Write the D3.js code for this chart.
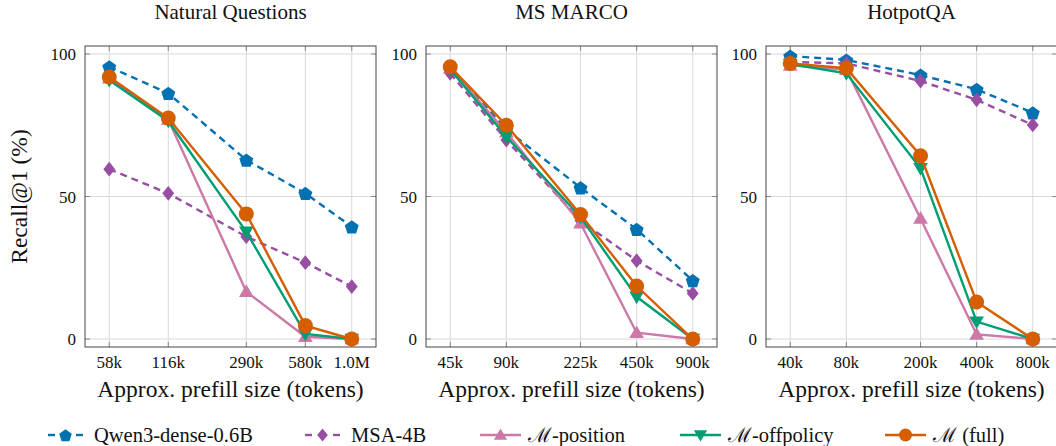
<!DOCTYPE html>
<html>
<head>
<meta charset="utf-8">
<script src="https://cdn.jsdelivr.net/npm/d3@7"></script>
<style>
  body { margin: 0; background: #fff; }
  svg text { font-family: "Liberation Serif", "Times New Roman", serif; fill: #111; }
</style>
</head>
<body>
<div id="chart"></div>
<script>
/* ---------- data ---------- */

const panelTitles = ['Natural Questions', 'MS MARCO', 'HotpotQA'];

// prefill sizes (tokens) and their tick labels
const nqSizes = [58e3, 116e3, 290e3, 580e3, 1e6];
const nqLabels = ['58k', '116k', '290k', '580k', '1.0M'];
const msSizes = [45e3, 90e3, 225e3, 450e3, 900e3];
const msLabels = ['45k', '90k', '225k', '450k', '900k'];
const hpSizes = [40e3, 80e3, 200e3, 400e3, 800e3];
const hpLabels = ['40k', '80k', '200k', '400k', '800k'];

// Recall@1 (%)
const nqQwen      = [95.5, 86.2, 62.8, 51.1, 39.4];
const nqMsa       = [59.6, 51.1, 35.9, 26.8, 18.4];
const nqPosition  = [91.5, 77.0, 16.6, 0.8, 0.0];
const nqOffpolicy = [90.8, 76.5, 37.6, 1.8, 0.0];
const nqFull      = [91.9, 77.5, 43.9, 4.7, 0.0];

const msQwen      = [95.3, 73.5, 53.1, 38.5, 20.5];
const msMsa       = [93.2, 69.8, 41.5, 27.5, 16.0];
const msPosition  = [95.0, 72.5, 40.6, 2.2, 0.0];
const msOffpolicy = [94.6, 71.0, 42.8, 14.8, 0.0];
const msFull      = [95.5, 75.0, 43.7, 18.6, 0.0];

const hpQwen      = [99.3, 97.9, 92.6, 87.6, 79.4];
const hpMsa       = [97.2, 96.7, 90.5, 83.9, 75.1];
const hpPosition  = [96.0, 94.5, 42.3, 1.6, 0.0];
const hpOffpolicy = [96.5, 93.2, 59.9, 6.1, 0.0];
const hpFull      = [96.7, 95.0, 64.3, 13.0, 0.0];

const seriesNames = ['Qwen3-dense-0.6B', 'MSA-4B', 'ℳ-position', 'ℳ-offpolicy', 'ℳ (full)'];
const yTicks = [0, 50, 100];

/* ---------- styles ---------- */

const seriesStyle = [
    {color: '#0072b2', dash: '7,5', marker: 'pentagon'},
    {color: '#984ea3', dash: '7,5', marker: 'diamond'},
    {color: '#cc79a7', dash: null,  marker: 'triangle'},
    {color: '#009e73', dash: null,  marker: 'triangleDown'},
    {color: '#d55e00', dash: null,  marker: 'circle'}
];

const panels = [
    {title: panelTitles[0], sizes: nqSizes, labels: nqLabels, series: [nqQwen, nqMsa, nqPosition, nqOffpolicy, nqFull]},
    {title: panelTitles[1], sizes: msSizes, labels: msLabels, series: [msQwen, msMsa, msPosition, msOffpolicy, msFull]},
    {title: panelTitles[2], sizes: hpSizes, labels: hpLabels, series: [hpQwen, hpMsa, hpPosition, hpOffpolicy, hpFull]}
];

const width = 1056, height = 446;
const panelLeft = [85, 426, 766];
const panelW = 291;
const plotTop = 46, plotBottom = 347;

const svg = d3.select('#chart').append('svg')
    .attr('width', width)
    .attr('height', height);

// marker path centred at 0,0
function markerPath(type, s) {
    if (type === 'circle') {
        const c = d3.path();
        c.arc(0, 0, s, 0, 2 * Math.PI);
        c.closePath();
        return c.toString();
    }
    let pts = [];
    if (type === 'pentagon') {
        for (let i = 0; i < 5; i++) {
            const a = -Math.PI / 2 + i * 2 * Math.PI / 5;
            pts.push([s * 1.05 * Math.cos(a), s * 1.05 * Math.sin(a) + 0.8]);
        }
    } else if (type === 'diamond') {
        pts = [[0, -s * 1.05], [s * 0.85, 0], [0, s * 1.05], [-s * 0.85, 0]];
    } else if (type === 'triangle') {
        pts = [[0, -s * 1.05], [s * 1.05, s * 0.75], [-s * 1.05, s * 0.75]];
    } else if (type === 'triangleDown') {
        pts = [[0, s * 1.05], [s * 1.05, -s * 0.75], [-s * 1.05, -s * 0.75]];
    }
    return 'M' + pts.map(p => p.join(',')).join('L') + 'Z';
}

const y = d3.scaleLinear().domain([-2.8, 102.8]).range([plotBottom, plotTop]);

panels.forEach((p, pi) => {
    const left = panelLeft[pi];
    const lo = d3.min(p.sizes), hi = d3.max(p.sizes);
    const pad = Math.pow(hi / lo, 0.1);
    const x = d3.scaleLog().domain([lo / pad, hi * pad]).range([left, left + panelW]);

    const g = svg.append('g');

    // grid
    g.selectAll('.vgrid').data(p.sizes).join('line')
        .attr('x1', d => x(d)).attr('x2', d => x(d))
        .attr('y1', plotTop).attr('y2', plotBottom)
        .attr('stroke', '#d9d9d9').attr('stroke-width', 1);
    g.selectAll('.hgrid').data(yTicks).join('line')
        .attr('x1', left).attr('x2', left + panelW)
        .attr('y1', d => y(d)).attr('y2', d => y(d))
        .attr('stroke', '#d9d9d9').attr('stroke-width', 1);

    // inner ticks, all four sides
    const tk = 5;
    p.sizes.forEach(d => {
        g.append('line').attr('x1', x(d)).attr('x2', x(d)).attr('y1', plotBottom).attr('y2', plotBottom - tk)
            .attr('stroke', '#888');
        g.append('line').attr('x1', x(d)).attr('x2', x(d)).attr('y1', plotTop).attr('y2', plotTop + tk)
            .attr('stroke', '#888');
    });
    yTicks.forEach(d => {
        g.append('line').attr('x1', left).attr('x2', left + tk).attr('y1', y(d)).attr('y2', y(d))
            .attr('stroke', '#888');
        g.append('line').attr('x1', left + panelW).attr('x2', left + panelW - tk).attr('y1', y(d)).attr('y2', y(d))
            .attr('stroke', '#888');
    });

    // frame
    g.append('rect')
        .attr('x', left).attr('y', plotTop)
        .attr('width', panelW).attr('height', plotBottom - plotTop)
        .attr('fill', 'none').attr('stroke', '#444').attr('stroke-width', 1);

    // tick labels
    g.selectAll('.xlab').data(p.sizes).join('text')
        .attr('x', d => x(d)).attr('y', 368)
        .attr('text-anchor', 'middle')
        .style('font-size', '17px')
        .text((d, i) => p.labels[i]);
    g.selectAll('.ylab').data(yTicks).join('text')
        .attr('x', left - 9).attr('y', d => y(d) + 6)
        .attr('text-anchor', 'end')
        .style('font-size', '17px')
        .text(d => d);

    // title and x label
    g.append('text')
        .attr('x', left + panelW / 2).attr('y', 19)
        .attr('text-anchor', 'middle')
        .style('font-size', '21px')
        .text(p.title);
    g.append('text')
        .attr('x', left + panelW / 2).attr('y', 397)
        .attr('text-anchor', 'middle')
        .style('font-size', '23.5px')
        .text('Approx. prefill size (tokens)');

    // series
    const line = d3.line().x(d => x(d[0])).y(d => y(d[1]));
    p.series.forEach((vals, si) => {
        const st = seriesStyle[si];
        const pts = vals.map((v, i) => [p.sizes[i], v]);
        g.append('path')
            .datum(pts)
            .attr('d', line)
            .attr('fill', 'none')
            .attr('stroke', st.color)
            .attr('stroke-width', 2.4)
            .attr('stroke-dasharray', st.dash);
        g.selectAll('.m' + si).data(pts).join('path')
            .attr('class', 'm' + si)
            .attr('transform', d => 'translate(' + x(d[0]) + ',' + y(d[1]) + ')')
            .attr('d', markerPath(st.marker, st.marker === 'circle' ? 7.5 : 7))
            .attr('fill', st.color);
    });
});

// y axis label
svg.append('text')
    .attr('transform', 'translate(27,' + ((plotTop + plotBottom) / 2) + ') rotate(-90)')
    .attr('text-anchor', 'middle')
    .style('font-size', '23.5px')
    .text('Recall@1 (%)');

// legend
const legendX = [48, 305, 480, 680, 885];
const legendY = 435;
seriesNames.forEach((name, i) => {
    const st = seriesStyle[i];
    const lg = svg.append('g').attr('transform', 'translate(' + legendX[i] + ',' + legendY + ')');
    const len = st.dash ? 35 : 41;
    if (st.dash) {
        [[0, 7], [len - 7, len]].forEach(seg => {
            lg.append('line')
                .attr('x1', seg[0]).attr('x2', seg[1])
                .attr('stroke', st.color).attr('stroke-width', 2.4);
        });
    } else {
        lg.append('line')
            .attr('x1', 0).attr('x2', len)
            .attr('stroke', st.color).attr('stroke-width', 2.4);
    }
    lg.append('path')
        .attr('transform', 'translate(' + (len / 2) + ',0)')
        .attr('d', markerPath(st.marker, st.marker === 'circle' ? 6.5 : 6.3))
        .attr('fill', st.color);
    lg.append('text')
        .attr('x', len + (st.dash ? 11 : 7)).attr('y', 7)
        .style('font-size', '20.5px')
        .text(name);
});
</script>
</body>
</html>
